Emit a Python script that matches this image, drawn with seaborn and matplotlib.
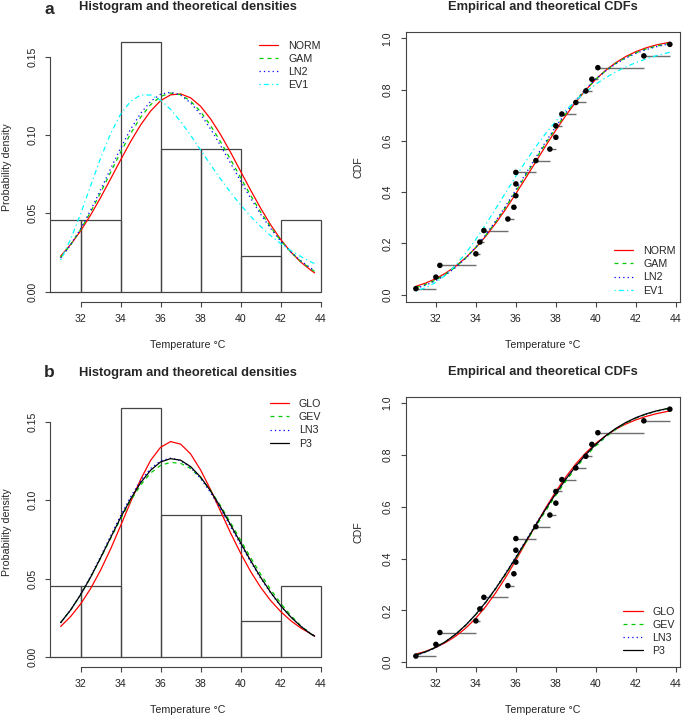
import matplotlib
matplotlib.use("Agg")
import matplotlib.pyplot as plt
import seaborn as sns

# observed temperatures (sorted) and their plotting positions
temps = [31.0, 32.0, 32.2, 34.0, 34.2, 34.4, 35.6, 35.9, 36.0, 36.0, 36.0,
         37.0, 37.7, 38.0, 38.0, 38.3, 39.0, 39.5, 39.8, 40.1, 42.4, 43.7]
ecdf_y = [0.023, 0.068, 0.114, 0.159, 0.205, 0.250, 0.295, 0.341, 0.386, 0.432, 0.477,
          0.523, 0.568, 0.614, 0.659, 0.705, 0.750, 0.795, 0.841, 0.886, 0.932, 0.977]
hist_breaks = [30, 32, 34, 36, 38, 40, 42, 44]

# x positions where the fitted curves were read
grid_x = [31.0, 31.5, 32.0, 32.5, 33.0, 33.5, 34.0, 34.5, 35.0, 35.5, 36.0, 36.5, 37.0,
          37.5, 38.0, 38.5, 39.0, 39.5, 40.0, 40.5, 41.0, 41.5, 42.0, 42.5, 43.0, 43.5, 43.7]

# densities, panel a
dens_norm = [0.0227, 0.0301, 0.0388, 0.0489, 0.0601, 0.0720, 0.0841, 0.0958, 0.1064, 0.1153, 0.1219, 0.1256, 0.1262,
             0.1237, 0.1183, 0.1102, 0.1002, 0.0889, 0.0768, 0.0648, 0.0533, 0.0427, 0.0334, 0.0255, 0.0190, 0.0138, 0.0120]
dens_gam = [0.0218, 0.0299, 0.0397, 0.0509, 0.0633, 0.0762, 0.0890, 0.1009, 0.1113, 0.1193, 0.1246, 0.1267, 0.1257,
            0.1216, 0.1149, 0.1060, 0.0956, 0.0843, 0.0728, 0.0615, 0.0508, 0.0412, 0.0327, 0.0255, 0.0195, 0.0146, 0.0130]
dens_ln2 = [0.0214, 0.0299, 0.0402, 0.0520, 0.0650, 0.0785, 0.0916, 0.1037, 0.1138, 0.1214, 0.1260, 0.1273, 0.1254,
            0.1205, 0.1131, 0.1038, 0.0932, 0.0819, 0.0706, 0.0597, 0.0495, 0.0404, 0.0323, 0.0255, 0.0198, 0.0151, 0.0135]
dens_ev1 = [0.0202, 0.0334, 0.0497, 0.0676, 0.0853, 0.1009, 0.1133, 0.1215, 0.1255, 0.1255, 0.1222, 0.1163, 0.1086,
            0.0998, 0.0904, 0.0810, 0.0719, 0.0633, 0.0553, 0.0481, 0.0416, 0.0358, 0.0307, 0.0263, 0.0225, 0.0191, 0.0179]

# densities, panel b
dens_glo = [0.0193, 0.0257, 0.0337, 0.0436, 0.0554, 0.0689, 0.0838, 0.0990, 0.1134, 0.1256, 0.1340, 0.1376, 0.1360,
            0.1297, 0.1194, 0.1068, 0.0929, 0.0791, 0.0662, 0.0545, 0.0444, 0.0359, 0.0289, 0.0231, 0.0184, 0.0147, 0.0134]
dens_gev = [0.0218, 0.0299, 0.0396, 0.0508, 0.0630, 0.0757, 0.0882, 0.0998, 0.1098, 0.1175, 0.1224, 0.1243, 0.1237,
            0.1204, 0.1144, 0.1062, 0.0965, 0.0857, 0.0745, 0.0634, 0.0528, 0.0430, 0.0343, 0.0265, 0.0199, 0.0147, 0.0132]
dens_ln3 = [0.0216, 0.0299, 0.0399, 0.0515, 0.0641, 0.0773, 0.0903, 0.1023, 0.1126, 0.1204, 0.1253, 0.1270, 0.1255,
            0.1210, 0.1140, 0.1049, 0.0944, 0.0831, 0.0717, 0.0606, 0.0502, 0.0408, 0.0325, 0.0255, 0.0196, 0.0149, 0.0132]
dens_p3 = [0.0218, 0.0299, 0.0397, 0.0509, 0.0633, 0.0762, 0.0890, 0.1009, 0.1113, 0.1193, 0.1246, 0.1267, 0.1257,
           0.1216, 0.1149, 0.1060, 0.0956, 0.0843, 0.0728, 0.0615, 0.0508, 0.0412, 0.0327, 0.0255, 0.0195, 0.0146, 0.0130]

# cdfs, panel a
cdf_norm = [0.0320, 0.0451, 0.0623, 0.0841, 0.1113, 0.1443, 0.1834, 0.2283, 0.2790, 0.3345, 0.3939, 0.4558, 0.5189,
            0.5816, 0.6422, 0.6994, 0.7520, 0.7993, 0.8407, 0.8762, 0.9057, 0.9296, 0.9486, 0.9632, 0.9743, 0.9824, 0.9850]
cdf_gam = [0.0269, 0.0398, 0.0571, 0.0797, 0.1082, 0.1431, 0.1844, 0.2319, 0.2850, 0.3428, 0.4039, 0.4668, 0.5300,
           0.5919, 0.6512, 0.7065, 0.7569, 0.8019, 0.8412, 0.8747, 0.9028, 0.9257, 0.9442, 0.9586, 0.9698, 0.9783, 0.9811]
cdf_ln2 = [0.0241, 0.0369, 0.0543, 0.0773, 0.1065, 0.1424, 0.1849, 0.2338, 0.2883, 0.3472, 0.4092, 0.4727, 0.5359,
           0.5975, 0.6560, 0.7102, 0.7595, 0.8033, 0.8414, 0.8739, 0.9012, 0.9236, 0.9418, 0.9562, 0.9674, 0.9761, 0.9790]
cdf_ev1 = [0.0138, 0.0270, 0.0477, 0.0770, 0.1152, 0.1619, 0.2156, 0.2745, 0.3364, 0.3993, 0.4614, 0.5212, 0.5774,
           0.6296, 0.6771, 0.7200, 0.7582, 0.7919, 0.8216, 0.8474, 0.8697, 0.8890, 0.9057, 0.9199, 0.9321, 0.9424, 0.9461]

# cdfs, panel b
cdf_glo = [0.0305, 0.0417, 0.0565, 0.0758, 0.1004, 0.1314, 0.1695, 0.2152, 0.2684, 0.3283, 0.3933, 0.4615, 0.5301,
           0.5967, 0.6591, 0.7157, 0.7657, 0.8087, 0.8449, 0.8750, 0.8997, 0.9197, 0.9358, 0.9488, 0.9591, 0.9673, 0.9701]
cdf_gev = [0.0269, 0.0397, 0.0570, 0.0796, 0.1080, 0.1427, 0.1836, 0.2307, 0.2832, 0.3401, 0.4002, 0.4620, 0.5241,
           0.5853, 0.6441, 0.6993, 0.7500, 0.7956, 0.8356, 0.8701, 0.8991, 0.9230, 0.9423, 0.9574, 0.9690, 0.9776, 0.9804]
cdf_ln3 = [0.0255, 0.0383, 0.0557, 0.0785, 0.1074, 0.1427, 0.1846, 0.2328, 0.2867, 0.3450, 0.4065, 0.4697, 0.5330,
           0.5947, 0.6536, 0.7084, 0.7582, 0.8026, 0.8413, 0.8743, 0.9020, 0.9247, 0.9430, 0.9574, 0.9686, 0.9772, 0.9800]
cdf_p3 = [0.0269, 0.0398, 0.0571, 0.0797, 0.1082, 0.1431, 0.1844, 0.2319, 0.2850, 0.3428, 0.4039, 0.4668, 0.5300,
          0.5919, 0.6512, 0.7065, 0.7569, 0.8019, 0.8412, 0.8747, 0.9028, 0.9257, 0.9442, 0.9586, 0.9698, 0.9783, 0.9811]

names_a = ["NORM", "GAM", "LN2", "EV1"]
names_b = ["GLO", "GEV", "LN3", "P3"]
colors_a = ["#FF0000", "#00CD00", "#0000FF", "#00FFFF"]
colors_b = ["#FF0000", "#00CD00", "#0000FF", "#000000"]
styles_a = ["-", (0, (3.2, 3.2)), (0, (1, 2.5)), (0, (1, 2.5, 4, 2.5))]
styles_b = ["-", (0, (3.2, 3.2)), (0, (1, 2.5)), "-"]

axis_col = "#444444"
xticks = [32, 34, 36, 38, 40, 42, 44]

sns.set_style("ticks")
plt.rcParams["font.family"] = ["Liberation Sans", "DejaVu Sans"]
plt.rcParams["font.size"] = 7.7
plt.rcParams["axes.edgecolor"] = axis_col


def style_ticks(ax):
    ax.tick_params(length=3.4, width=0.8, color=axis_col, pad=5.5, labelsize=7.6, labelcolor="#222222")
    ax.tick_params(axis="y", labelrotation=90, pad=6.2)
    for lab in ax.get_yticklabels():
        lab.set_va("center")


def add_legend(ax, leg_xy):
    ax.legend(loc="upper left", bbox_to_anchor=leg_xy, frameon=False, borderpad=0,
              borderaxespad=0, handlelength=1.8, handletextpad=0.9, labelspacing=0.3,
              fontsize=7.7)


def add_labels(ax, ylab, ylab_x, title):
    ax.set_xlabel("Temperature \u00b0C", va="center")
    ax.set_ylabel(ylab, va="center")
    ax.xaxis.set_label_coords(0.5, -0.161)
    ax.yaxis.set_label_coords(ylab_x, 0.5)
    ax.set_title(title, fontsize=9.26, fontweight="bold", pad=16)


def hist_panel(ax, dens, names, colors, styles, leg_xy, title):
    sns.histplot(x=temps, bins=[b + 1e-7 for b in hist_breaks], stat="density", fill=False,
                 color=axis_col, linewidth=0.9, ax=ax)
    for d, n, c, s in zip(dens, names, colors, styles):
        sns.lineplot(x=grid_x, y=d, ax=ax, color=c, linestyle=s, linewidth=0.9, label=n)
    ax.set_xlim(30.492, 44.208)
    ax.set_ylim(-0.0064, 0.1654)
    ax.set_xticks(xticks)
    ax.set_yticks([0.0, 0.05, 0.10, 0.15])
    ax.set_yticklabels(["0.00", "0.05", "0.10", "0.15"])
    sns.despine(ax=ax)
    ax.spines["left"].set_bounds(0, 0.15)
    ax.spines["bottom"].set_bounds(32, 44)
    for sp in ["left", "bottom"]:
        ax.spines[sp].set_linewidth(0.8)
    add_labels(ax, "Probability density", -0.160, title)
    add_legend(ax, leg_xy)
    style_ticks(ax)


def cdf_panel(ax, cdfs, names, colors, styles, leg_xy, ylim, title):
    ax.hlines(ecdf_y[:-1], temps[:-1], temps[1:], colors="#6e6e6e", linewidth=1.0)
    sns.scatterplot(x=temps, y=ecdf_y, ax=ax, color="black", s=16, edgecolor="none", zorder=3)
    for cv, n, c, s in zip(cdfs, names, colors, styles):
        sns.lineplot(x=grid_x, y=cv, ax=ax, color=c, linestyle=s, linewidth=0.9, label=n)
    ax.set_xlim(30.492, 44.208)
    ax.set_ylim(*ylim)
    ax.set_xticks(xticks)
    ax.set_yticks([0.0, 0.2, 0.4, 0.6, 0.8, 1.0])
    ax.set_yticklabels(["0.0", "0.2", "0.4", "0.6", "0.8", "1.0"])
    for sp in ax.spines.values():
        sp.set_linewidth(0.8)
    add_labels(ax, "CDF", -0.171, title)
    add_legend(ax, leg_xy)
    style_ticks(ax)


fig = plt.figure(figsize=(6.85, 7.17), dpi=100)
ax_a1 = fig.add_axes([0.0737, 0.5792, 0.4004, 0.3755])
ax_a2 = fig.add_axes([0.5923, 0.5792, 0.4004, 0.3757])
ax_b1 = fig.add_axes([0.0737, 0.0702, 0.4004, 0.3745])
ax_b2 = fig.add_axes([0.5923, 0.0702, 0.4004, 0.3757])

hist_panel(ax_a1, [dens_norm, dens_gam, dens_ln2, dens_ev1], names_a, colors_a, styles_a,
           (0.761, 0.970), "Histogram and theoretical densities")
cdf_panel(ax_a2, [cdf_norm, cdf_gam, cdf_ln2, cdf_ev1], names_a, colors_a, styles_a,
          (0.760, 0.207), (-0.028, 1.024), "Empirical and theoretical CDFs")
hist_panel(ax_b1, [dens_glo, dens_gev, dens_ln3, dens_p3], names_b, colors_b, styles_b,
           (0.800, 0.997), "Histogram and theoretical densities")
cdf_panel(ax_b2, [cdf_glo, cdf_gev, cdf_ln3, cdf_p3], names_b, colors_b, styles_b,
          (0.794, 0.223), (-0.018, 1.023), "Empirical and theoretical CDFs")

fig.text(49 / 685, 1 - 14 / 717, "a", fontsize=12.5, fontweight="bold", ha="center", va="baseline")
fig.text(49 / 685, 1 - 377 / 717, "b", fontsize=12.5, fontweight="bold", ha="center", va="baseline")

fig.savefig("out.png", dpi=100)
